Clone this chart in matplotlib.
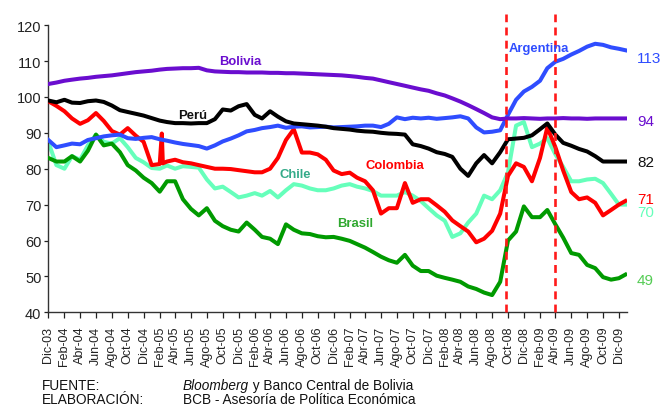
import matplotlib
matplotlib.use("Agg")
import matplotlib.pyplot as plt
import matplotlib.transforms as mtransforms
import pandas as pd
import numpy as np

plt.rcParams['font.family'] = ['Liberation Sans', 'DejaVu Sans']

# ---- data (index, Dic-03 = 100 approx.) ----
dates = list(pd.date_range('2003-12-01', '2009-12-01', freq='MS')) + [pd.Timestamp('2009-12-26')]

bolivia = [103.6, 104.0, 104.5, 104.8, 105.1, 105.3, 105.6, 105.8, 106.0, 106.3,
           106.6, 106.9, 107.1, 107.3, 107.6, 107.8, 107.9, 108.0, 108.0, 108.1,
           107.4, 107.1, 107.0, 106.9, 106.9, 106.8, 106.8, 106.8, 106.7, 106.7,
           106.6, 106.6, 106.5, 106.4, 106.3, 106.2, 106.1, 106.0, 105.8, 105.6,
           105.3, 105.1, 104.6, 104.1, 103.6, 103.1, 102.6, 102.1, 101.7, 101.0,
           100.4, 99.6, 98.7, 97.7, 96.6, 95.5, 94.3, 93.8, 94.0, 94.0,
           94.1, 94.0, 93.9, 94.0, 94.0, 94.1, 94.0, 94.0, 93.9, 94.0,
           94.0, 94.0, 94.0, 94.0]

argentina = [88.0, 86.0, 86.5, 87.0, 86.8, 88.0, 88.5, 89.0, 89.3, 89.5,
             88.5, 88.3, 88.6, 88.8, 88.2, 87.8, 87.3, 86.9, 86.6, 86.3,
             85.6, 86.5, 87.6, 88.4, 89.3, 90.4, 90.8, 91.3, 91.6, 92.0,
             91.4, 91.7, 91.8, 91.5, 91.6, 91.7, 91.5, 91.6, 91.7, 91.8,
             92.0, 92.0, 91.6, 92.5, 94.3, 93.8, 94.2, 94.0, 94.2, 93.9,
             94.1, 94.3, 94.6, 94.0, 91.5, 90.1, 90.3, 90.7, 95.0, 99.2,
             101.5, 102.8, 104.5, 108.0, 109.8, 110.6, 111.8, 112.8, 114.0, 114.8,
             114.5, 113.8, 113.4, 113.0]

peru = [99.0, 98.5, 99.2, 98.4, 98.3, 98.8, 99.0, 98.6, 97.6, 96.3,
        95.8, 95.3, 94.8, 94.1, 93.4, 93.0, 92.7, 92.7, 92.6, 92.7,
        92.7, 93.8, 96.5, 96.2, 97.4, 98.0, 95.0, 94.0, 96.0, 94.5,
        93.2, 92.6, 92.4, 92.2, 92.0, 91.7, 91.3, 91.1, 90.9, 90.6,
        90.4, 90.3, 90.0, 89.8, 89.7, 89.5, 86.8, 86.3, 85.6, 84.6,
        84.1, 83.3, 80.0, 78.0, 81.5, 83.8, 81.5, 84.6, 88.2, 88.4,
        88.6, 89.3, 91.0, 92.6, 89.5, 87.2, 86.4, 85.5, 84.8, 83.5,
        82.0, 82.0, 82.0, 82.0]

# Colombia has a short-lived spike in Feb-05, so it carries two extra dates
colombia_extra_dates = ['2005-02-09', '2005-02-13']
colombia_extra_values = [89.8, 81.5]
colombia = [98.8, 97.5, 96.0, 94.0, 92.5, 93.5, 95.5, 93.3, 90.5, 89.5,
            91.3, 89.2, 87.5, 81.0, 81.3, 82.0, 82.5, 81.8, 81.5, 81.0,
            80.5, 80.0, 80.0, 79.9, 79.6, 79.3, 79.0, 79.0, 80.0, 83.0,
            88.0, 91.0, 84.5, 84.5, 84.0, 82.5, 79.5, 78.5, 78.9, 77.5,
            76.5, 74.0, 67.5, 69.0, 69.0, 76.0, 70.5, 71.5, 71.5, 69.8,
            68.0, 65.6, 64.0, 62.5, 59.5, 60.5, 62.7, 67.5, 78.0, 81.5,
            80.5, 76.5, 83.0, 91.5, 86.0, 79.5, 73.5, 71.5, 72.0, 70.5,
            67.0, 68.5, 70.0, 71.0]

chile = [87.5, 81.0, 80.0, 83.5, 82.5, 86.5, 89.5, 87.5, 87.0, 88.5,
         86.0, 83.0, 81.8, 80.2, 80.0, 80.9, 80.0, 80.7, 80.5, 80.3,
         77.0, 74.5, 75.0, 73.5, 72.0, 72.5, 73.2, 72.5, 73.8, 72.0,
         74.0, 75.7, 75.3, 74.5, 74.0, 74.0, 74.5, 75.3, 75.7, 75.0,
         74.5, 73.8, 72.5, 72.5, 72.5, 73.5, 72.5, 71.0, 69.0, 67.0,
         65.5, 61.0, 62.0, 65.0, 67.5, 72.5, 71.5, 74.0, 79.0, 92.0,
         93.0, 86.0, 87.0, 88.5, 84.0, 80.5, 76.5, 76.5, 77.0, 77.2,
         76.0, 73.0, 70.0, 70.0]

brasil = [83.0, 82.0, 82.0, 83.5, 82.0, 85.0, 89.5, 86.5, 87.0, 84.6,
          81.0, 79.5, 77.5, 76.0, 73.6, 76.5, 76.5, 71.5, 68.8, 67.0,
          69.0, 65.5, 64.0, 63.0, 62.5, 65.0, 63.0, 61.0, 60.5, 59.0,
          64.5, 63.0, 62.0, 61.8, 61.2, 60.9, 61.0, 60.5, 59.9, 59.0,
          58.0, 56.8, 55.5, 54.5, 53.8, 56.0, 53.0, 51.5, 51.5, 50.2,
          49.6, 49.1, 48.5, 47.2, 46.5, 45.5, 44.8, 48.5, 60.0, 62.5,
          69.5, 66.5, 66.5, 68.5, 64.5, 60.8, 56.5, 56.0, 53.2, 52.3,
          49.8, 49.1, 49.5, 50.5]

event_dates = ['2008-09-25', '2009-04-01']

month_abbr = {12: 'Dic', 2: 'Feb', 4: 'Abr', 6: 'Jun', 8: 'Ago', 10: 'Oct'}
tick_dates = pd.date_range('2003-12-01', '2009-12-01', freq='2MS')
tick_labels = [f"{month_abbr[d.month]}-{d.strftime('%y')}" for d in tick_dates]

# Colombia series with its extra dates, sorted by date
col_df = pd.DataFrame({'d': dates + [pd.Timestamp(x) for x in colombia_extra_dates],
                       'v': colombia + colombia_extra_values}).sort_values('d')

# ---- styling ----
C_BOL = '#6a0dcf'
C_ARG = '#2f4dff'
C_PER = '#000000'
C_COL = '#ff0000'
C_CHI = '#66ffbb'
C_BRA = '#009a00'

fig = plt.figure(figsize=(6.61, 4.06), dpi=100)
ax = fig.add_axes([0.0731, 0.2283, 0.875, 0.7074])

lw = 2.9
ax.plot(dates, chile, color=C_CHI, lw=lw, zorder=2)
ax.plot(col_df['d'], col_df['v'], color=C_COL, lw=lw, zorder=3)
ax.plot(dates, brasil, color=C_BRA, lw=lw, zorder=3)
ax.plot(dates, argentina, color=C_ARG, lw=lw, zorder=4)
ax.plot(dates, peru, color=C_PER, lw=lw, zorder=5)
ax.plot(dates, bolivia, color=C_BOL, lw=lw, zorder=5)

for ed in event_dates:
    ax.axvline(pd.Timestamp(ed), ymin=0, ymax=1.04, color='#ff1a1a', lw=1.9,
               dashes=(3, 2), clip_on=False, zorder=6)

ax.set_ylim(40, 120)
ax.set_xlim(pd.Timestamp('2003-12-01'), pd.Timestamp('2009-12-31'))
ax.set_yticks(np.arange(40, 121, 10))
ax.set_xticks(tick_dates)
ax.set_xticklabels(tick_labels, rotation=90, fontsize=9)
ax.tick_params(axis='y', labelsize=10.5, length=3, width=0.9, pad=2, colors='#222222')
ax.tick_params(axis='x', length=4, width=0.9, pad=5.5, colors='#222222')

for s in ['top', 'right']:
    ax.spines[s].set_visible(False)
for s in ['left', 'bottom']:
    ax.spines[s].set_color('#333333')
    ax.spines[s].set_linewidth(1.0)

# series names
fs = 9.4
ax.text(pd.Timestamp('2005-12-07'), 110.0, 'Bolivia', color=C_BOL, fontsize=fs,
        fontweight='bold', ha='center', va='center')
ax.text(pd.Timestamp('2005-06-08'), 95.0, 'Perú', color='#111111', fontsize=fs,
        fontweight='bold', ha='center', va='center')
ax.text(pd.Timestamp('2009-01-28'), 113.6, 'Argentina', color=C_ARG, fontsize=fs,
        fontweight='bold', ha='center', va='center', zorder=7)
ax.text(pd.Timestamp('2007-07-24'), 81.0, 'Colombia', color=C_COL, fontsize=fs,
        fontweight='bold', ha='center', va='center')
ax.text(pd.Timestamp('2006-07-08'), 78.4, 'Chile', color='#33aa88', fontsize=fs,
        fontweight='bold', ha='center', va='center')
ax.text(pd.Timestamp('2007-02-20'), 64.9, 'Brasil', color='#2fa82f', fontsize=fs,
        fontweight='bold', ha='center', va='center')

# end values
trans = mtransforms.blended_transform_factory(ax.transAxes, ax.transData)
end_labels = [('113', 110.8, C_ARG), ('94', 93.3, C_BOL), ('82', 81.9, '#111111'),
              ('71', 71.6, C_COL), ('70', 67.9, '#66ffbb'), ('49', 49.0, '#55cc55')]
for txt, yv, c in end_labels:
    ax.text(1.018, yv, txt, transform=trans, color=c, fontsize=11,
            ha='left', va='center', clip_on=False)

# footer
fy1 = 1 - 386 / 406
fy2 = 1 - 400.5 / 406
fx1 = 42 / 661
fx2 = 183 / 661
ffs = 9.8
fig.text(fx1, fy1, 'FUENTE:', fontsize=ffs, va='center', ha='left', color='#111111')
fig.text(fx1, fy2, 'ELABORACIÓN:', fontsize=ffs, va='center', ha='left', color='#111111')
t1 = fig.text(fx2, fy1, 'Bloomberg', fontsize=ffs, style='italic', va='center', ha='left', color='#111111')
fig.text(fx2, fy2, 'BCB - Asesoría de Política Económica', fontsize=ffs, va='center', ha='left', color='#111111')
fig.canvas.draw()
bb = t1.get_window_extent(renderer=fig.canvas.get_renderer())
x_after = bb.x1 / fig.bbox.width
fig.text(x_after, fy1, ' y Banco Central de Bolivia', fontsize=ffs, va='center', ha='left', color='#111111')

fig.savefig('out.png', dpi=100)
